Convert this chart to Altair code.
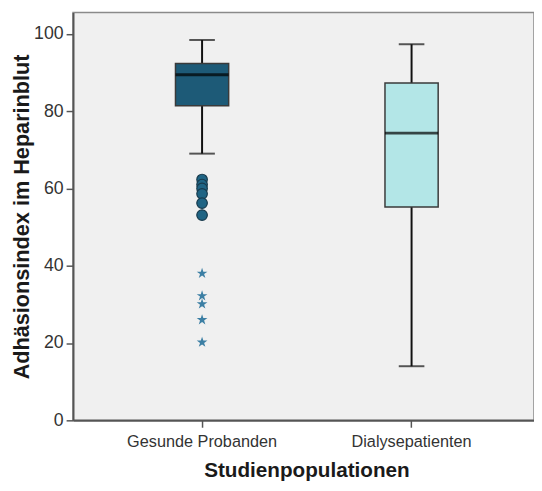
import altair as alt
import pandas as pd

groups = ["Gesunde Probanden", "Dialysepatienten"]
lower_whisker = [69, 14]
q1 = [81.4, 55.2]
median = [89.4, 74.3]
q3 = [92.3, 87.3]
upper_whisker = [98.4, 97.3]
box_colors = ["#1d5a77", "#b3e6e7"]

outlier_values = [62.3, 61.0, 60.0, 58.6, 56.2, 53.1]
extreme_values = [38.0, 32.2, 30.1, 26.0, 20.2]

stats = pd.DataFrame({
    "group": groups,
    "lower": lower_whisker,
    "q1": q1,
    "median": median,
    "q3": q3,
    "upper": upper_whisker,
})
outliers = pd.DataFrame({"group": groups[0], "value": outlier_values})
extremes = pd.DataFrame({"group": groups[0], "value": extreme_values})

LABEL_FONT = "Liberation Sans, Arial, sans-serif"
TITLE_FONT = "Liberation Sans, Arial, sans-serif"

x_enc = alt.X(
    "group:N",
    sort=groups,
    scale=alt.Scale(paddingInner=0, paddingOuter=0.1002, align=0.579),
    axis=alt.Axis(
        title="Studienpopulationen",
        labelAngle=0,
        labelFont=LABEL_FONT,
        labelFontSize=16.5,
        labelColor="#333333",
        labelPadding=7,
        tickColor="#555555",
        tickSize=7,
        tickWidth=1.5,
        domainColor="#555555",
        domainWidth=2,
        titleFont=TITLE_FONT,
        titleFontSize=21,
        titleFontWeight="bold",
        titleColor="#1a1a1a",
        titlePadding=10,
        titleX=237,
        titleAlign="center",
    ),
)
y_scale = alt.Scale(domain=[0, 105.5], nice=False, zero=True)
y_axis = alt.Axis(
    title="Adhäsionsindex im Heparinblut",
    values=[0, 20, 40, 60, 80, 100],
    grid=False,
    labelFont=LABEL_FONT,
    labelFontSize=18,
    labelColor="#333333",
    labelPadding=3,
    tickColor="#555555",
    tickSize=7,
    tickWidth=1.5,
    domainColor="#555555",
    domainWidth=2,
    titleFont=TITLE_FONT,
    titleFontSize=22,
    titleFontWeight="bold",
    titleColor="#1a1a1a",
    titlePadding=0,
)

base = alt.Chart(stats)

whiskers = base.mark_rule(color="#111111", strokeWidth=2).encode(
    x=x_enc,
    y=alt.Y("lower:Q", scale=y_scale, axis=y_axis),
    y2="upper:Q",
)
caps_low = base.mark_tick(color="#111111", size=26, thickness=2).encode(
    x=alt.X("group:N", sort=groups), y="lower:Q"
)
caps_high = base.mark_tick(color="#111111", size=26, thickness=2).encode(
    x=alt.X("group:N", sort=groups), y="upper:Q"
)
boxes = base.mark_bar(size=54, stroke="#3a3a3a", strokeWidth=1.5).encode(
    x=alt.X("group:N", sort=groups),
    y="q1:Q",
    y2="q3:Q",
    color=alt.Color("group:N", scale=alt.Scale(domain=groups, range=box_colors), legend=None),
)
medians = base.mark_tick(color="#000000", size=54, thickness=3).encode(
    x=alt.X("group:N", sort=groups), y="median:Q"
)
circles = alt.Chart(outliers).mark_point(
    shape="circle", filled=True, size=115, fill="#1f6484", stroke="#173a4c", strokeWidth=1.2, opacity=1
).encode(x=alt.X("group:N", sort=groups), y="value:Q")
stars = alt.Chart(extremes).mark_point(
    shape="M0,-1L0.2245,-0.309L0.9511,-0.309L0.3633,0.118L0.5878,0.809L0,0.382L-0.5878,0.809L-0.3633,0.118L-0.9511,-0.309L-0.2245,-0.309Z",
    filled=True, size=130, color="#3c7fa4", opacity=1
).encode(x=alt.X("group:N", sort=groups), y="value:Q")

chart = alt.layer(whiskers, caps_low, caps_high, boxes, medians, circles, stars).properties(
    width=468,
    height=414,
    autosize=alt.AutoSizeParams(type="none"),
    padding={"left": 66, "top": 1, "right": 0, "bottom": 60},
    background="#ffffff",
).configure_view(
    fill="#f0f0f0",
    stroke="#8a8a8a",
    strokeWidth=1.5,
)

chart.save("out.html", embed_options={"renderer": "svg", "actions": False})
